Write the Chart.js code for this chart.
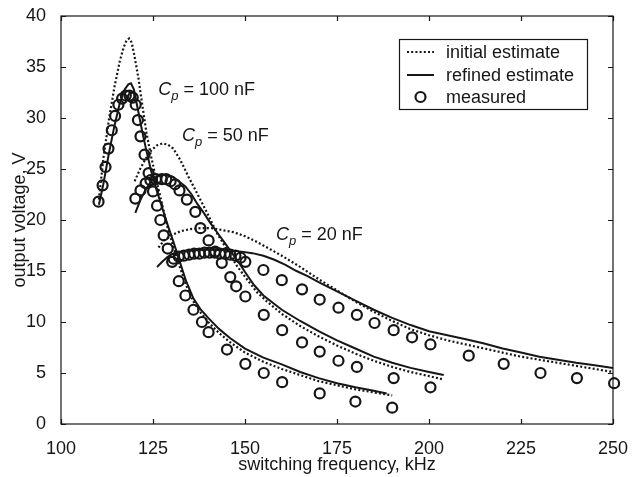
<!DOCTYPE html>
<html><head><meta charset="utf-8">
<script src="https://cdn.jsdelivr.net/npm/chart.js@4.4.0/dist/chart.umd.min.js"></script>
<style>html,body{margin:0;padding:0;background:#fff}#wrap{width:632px;height:477px}</style>
</head><body><div id="wrap"><canvas id="c" width="632" height="477"></canvas></div>
<script>
// ---- tick labels ----
const xTickValues = [100, 125, 150, 175, 200, 225, 250];
const yTickValues = [0, 5, 10, 15, 20, 25, 30, 35, 40];

// ---- Cp = 100 nF ----
const f100Initial = [110.3, 111.5, 113, 114.5, 116, 117, 117.8, 118.5, 119.2, 120, 121, 122, 123.2, 124.5, 126, 127.5, 129, 130.6, 132.2, 134, 136, 138, 140, 143, 146, 150, 155, 160, 165, 170, 175, 180, 185, 190];
const v100Initial = [22.0, 26.0, 29.8, 33.0, 35.6, 36.9, 37.6, 37.8, 37.4, 36.0, 34.0, 31.5, 28.6, 26.2, 23.8, 21.5, 19.2, 17.3, 15.5, 13.6, 12.0, 10.9, 10.0, 8.9, 8.0, 7.0, 6.1, 5.4, 4.8, 4.2, 3.8, 3.4, 3.1, 2.8];
const f100Refined = [110.3, 111.5, 113, 114.5, 116, 117.3, 118.3, 119.0, 119.8, 120.8, 122, 123.2, 124.5, 126, 127.5, 129, 130.6, 132.2, 134, 136, 138, 140, 143, 146, 150, 155, 160, 165, 170, 175, 180, 185, 188.5];
const v100Refined = [21.5, 23.5, 26.5, 29.2, 31.5, 32.8, 33.3, 33.4, 32.8, 31.0, 28.8, 26.8, 24.8, 22.9, 21.2, 19.5, 17.8, 16.0, 14.0, 12.3, 11.2, 10.4, 9.3, 8.4, 7.4, 6.5, 5.85, 5.1, 4.5, 4.0, 3.6, 3.25, 3.0];
const f100Measured = [110.2, 111.3, 112.1, 112.9, 113.8, 114.7, 115.6, 116.6, 117.6, 118.6, 119.5, 120.3, 120.9, 121.6, 122.7, 123.8, 125.0, 126.1, 127.0, 127.9, 129.0, 130.2, 132.0, 133.8, 136.0, 138.3, 140.1, 145.1, 150.1, 155.1, 160.1, 170.3, 180.0, 190.0];
const v100Measured = [21.8, 23.4, 25.2, 27.0, 28.8, 30.2, 31.3, 31.9, 32.2, 32.2, 32.0, 31.3, 29.8, 28.2, 26.4, 24.6, 22.8, 21.4, 20.0, 18.5, 17.2, 15.9, 14.0, 12.6, 11.2, 10.0, 9.0, 7.3, 5.9, 5.0, 4.1, 3.0, 2.2, 1.6];

// ---- Cp = 50 nF ----
const f50Initial = [120, 121.5, 123, 124.5, 126, 127.5, 129, 130.5, 132.4, 134.7, 137, 139.7, 142.4, 145.1, 147.8, 150.5, 153.3, 156, 160, 165, 170, 175, 180, 185, 190, 195, 200, 203.5];
const v50Initial = [23.8, 25.0, 26.0, 26.8, 27.3, 27.5, 27.4, 27.0, 25.9, 24.2, 22.6, 20.7, 18.7, 17.1, 15.5, 14.2, 12.9, 12.0, 10.8, 9.6, 8.6, 7.7, 6.9, 6.2, 5.6, 5.1, 4.7, 4.4];
const f50Refined = [120.2, 121.5, 123, 124.5, 126, 127.5, 129, 130.5, 132, 133.8, 135.5, 137, 138.8, 140.6, 142.4, 144.2, 146, 148, 150, 152.5, 155, 160, 165, 170, 175, 180, 185, 190, 195, 200, 204];
const v50Refined = [20.7, 21.9, 23.0, 23.8, 24.3, 24.4, 24.4, 24.2, 23.8, 23.3, 22.5, 21.6, 20.7, 19.7, 18.8, 17.9, 17.0, 16.0, 14.9, 13.6, 12.6, 11.2, 10.1, 9.1, 8.2, 7.4, 6.6, 6.0, 5.5, 5.1, 4.8];
const f50Measured = [120.2, 121.6, 123.0, 124.3, 125.8, 127.4, 128.6, 129.8, 131.0, 132.2, 134.2, 136.5, 137.9, 140.1, 141.9, 143.7, 146.0, 147.6, 150.1, 155.1, 160.1, 165.5, 170.3, 175.4, 180.4, 190.4, 200.4];
const v50Measured = [22.1, 22.9, 23.6, 23.9, 24.0, 24.0, 24.0, 23.8, 23.5, 22.9, 22.0, 20.8, 19.2, 18.0, 16.9, 15.8, 14.4, 13.5, 12.5, 10.7, 9.2, 8.0, 7.1, 6.2, 5.6, 4.5, 3.6];

// ---- Cp = 20 nF ----
const f20Initial = [126.5, 128, 130, 132.5, 135, 138, 141, 144, 147, 150, 153, 156, 160, 165, 170, 175, 180, 185, 190, 195, 200, 205, 210, 215, 220, 225, 230, 235, 240, 245, 250];
const v20Initial = [17.3, 18.0, 18.5, 18.9, 19.1, 19.2, 19.2, 19.0, 18.8, 18.4, 17.9, 17.3, 16.5, 15.4, 14.2, 13.1, 12.0, 11.0, 10.1, 9.3, 8.7, 8.2, 7.8, 7.4, 7.0, 6.6, 6.3, 6.0, 5.7, 5.4, 5.1];
const f20Refined = [126.1, 127.5, 129, 131, 134, 137, 140, 143, 146, 149, 152, 155, 158, 161, 164, 167, 170, 175, 180, 185, 190, 195, 200, 205, 210, 215, 220, 225, 230, 235, 240, 245, 250];
const v20Refined = [15.4, 15.9, 16.4, 16.8, 16.95, 17.05, 17.1, 17.05, 17.0, 16.9, 16.75, 16.5, 16.1, 15.6, 15.0, 14.5, 13.9, 13.0, 12.1, 11.2, 10.4, 9.7, 9.1, 8.7, 8.3, 7.9, 7.4, 7.0, 6.6, 6.3, 6.0, 5.75, 5.5];
const f20Measured = [130.6, 132.0, 133.4, 134.8, 136.2, 137.6, 139.0, 140.4, 141.8, 143.2, 144.6, 146.0, 147.4, 148.8, 150.1, 155.0, 160.0, 165.5, 170.3, 175.4, 180.4, 185.2, 190.4, 195.4, 200.4, 210.8, 220.3, 230.3, 240.2, 250.3];
const v20Measured = [16.2, 16.4, 16.5, 16.6, 16.7, 16.7, 16.8, 16.8, 16.8, 16.7, 16.7, 16.6, 16.5, 16.3, 15.9, 15.1, 14.1, 13.2, 12.2, 11.4, 10.7, 9.9, 9.2, 8.5, 7.8, 6.7, 5.9, 5.0, 4.5, 4.0];

const legendLabels = ['initial estimate', 'refined estimate', 'measured'];
const curveLabels = ['100 nF', '50 nF', '20 nF'];

// ---- presentation (not data) ----
const INK = '#161616';
const FONT = '"Liberation Sans", Arial, Helvetica, sans-serif';
const FS = 18;
const labelAnchors = [[126.4, 32.7], [132.9, 28.2], [158.4, 18.5]];

function pairs(xs, ys) { return xs.map((x, i) => ({ x: x, y: ys[i] })); }
function lineDs(xs, ys, dotted) {
  return { data: pairs(xs, ys), showLine: true, borderColor: INK, borderWidth: dotted ? 2.2 : 2,
    borderDash: dotted ? [2, 2.2] : [], borderCapStyle: 'butt', pointRadius: 0, pointHoverRadius: 0, tension: 0, fill: false };
}
function ptsDs(xs, ys) {
  return { data: pairs(xs, ys), showLine: false, pointStyle: 'circle', pointRadius: 5, pointBorderWidth: 2.2,
    borderColor: INK, backgroundColor: 'rgba(0,0,0,0)', clip: false };
}

const frame = {
  id: 'frame',
  afterDatasetsDraw(chart) {
    const ctx = chart.ctx, a = chart.chartArea, xs = chart.scales.x, ys = chart.scales.y;
    ctx.save();
    ctx.strokeStyle = INK; ctx.lineWidth = 1.2;
    ctx.strokeRect(a.left, a.top, a.right - a.left, a.bottom - a.top);
    const L = 5;
    ctx.beginPath();
    xTickValues.forEach(v => { const p = Math.round(xs.getPixelForValue(v)) + 0.5;
      ctx.moveTo(p, a.bottom); ctx.lineTo(p, a.bottom - L); ctx.moveTo(p, a.top); ctx.lineTo(p, a.top + L); });
    yTickValues.forEach(v => { const p = Math.round(ys.getPixelForValue(v)) + 0.5;
      ctx.moveTo(a.left, p); ctx.lineTo(a.left + L, p); ctx.moveTo(a.right, p); ctx.lineTo(a.right - L, p); });
    ctx.stroke();

    // curve annotations
    ctx.fillStyle = INK; ctx.textBaseline = 'middle'; ctx.textAlign = 'left';
    labelAnchors.forEach((an, i) => {
      let x = xs.getPixelForValue(an[0]); const y = ys.getPixelForValue(an[1]);
      ctx.font = 'italic ' + FS + 'px ' + FONT; ctx.fillText('C', x, y); x += ctx.measureText('C').width;
      ctx.font = 'italic 13px ' + FONT; ctx.fillText('p', x, y + 6); x += ctx.measureText('p').width;
      ctx.font = FS + 'px ' + FONT; ctx.fillText(' = ' + curveLabels[i], x, y);
    });

    // legend box
    const bx = 399, by = 39, bw = 188, bh = 70;
    ctx.fillStyle = '#fff'; ctx.fillRect(bx, by, bw, bh);
    ctx.lineWidth = 1.2; ctx.strokeRect(bx + 0.5, by + 0.5, bw, bh);
    const rows = [52, 75, 97];
    ctx.lineWidth = 2.2;
    ctx.setLineDash([2, 2.2]); ctx.beginPath(); ctx.moveTo(407, rows[0]); ctx.lineTo(434, rows[0]); ctx.stroke();
    ctx.setLineDash([]); ctx.lineWidth = 2; ctx.beginPath(); ctx.moveTo(407, rows[1]); ctx.lineTo(434, rows[1]); ctx.stroke();
    ctx.lineWidth = 2.2; ctx.beginPath(); ctx.arc(420.5, rows[2], 5, 0, Math.PI * 2); ctx.stroke();
    ctx.fillStyle = INK; ctx.font = FS + 'px ' + FONT;
    legendLabels.forEach((t, i) => ctx.fillText(t, 446, rows[i] + 1));
    ctx.restore();
  }
};

new Chart(document.getElementById('c'), {
  type: 'scatter',
  data: { datasets: [
    lineDs(f100Initial, v100Initial, true), lineDs(f100Refined, v100Refined, false), ptsDs(f100Measured, v100Measured),
    lineDs(f50Initial, v50Initial, true), lineDs(f50Refined, v50Refined, false), ptsDs(f50Measured, v50Measured),
    lineDs(f20Initial, v20Initial, true), lineDs(f20Refined, v20Refined, false), ptsDs(f20Measured, v20Measured)
  ] },
  options: {
    responsive: false, animation: false, devicePixelRatio: 1,
    layout: { padding: { left: 0, right: 19, top: 16, bottom: 0 } },
    plugins: { legend: { display: false }, tooltip: { enabled: false } },
    scales: {
      x: { type: 'linear', min: 100, max: 250,
        afterBuildTicks: s => { s.ticks = xTickValues.map(v => ({ value: v })); },
        afterFit: s => { s.height = 53; s.paddingLeft = 0; s.paddingRight = 0; },
        grid: { display: false }, border: { display: false },
        ticks: { color: INK, font: { family: FONT, size: FS }, padding: 6, maxRotation: 0, autoSkip: false },
        title: { display: true, text: 'switching frequency, kHz', color: INK, font: { family: FONT, size: FS }, padding: { top: 0, bottom: 1 } } },
      y: { type: 'linear', min: 0, max: 40,
        afterBuildTicks: s => { s.ticks = yTickValues.map(v => ({ value: v })); },
        afterFit: s => { s.width = 61; s.paddingTop = 0; s.paddingBottom = 0; },
        grid: { display: false }, border: { display: false },
        ticks: { color: INK, font: { family: FONT, size: FS }, padding: 7, autoSkip: false },
        title: { display: true, text: 'output voltage, V', color: INK, font: { family: FONT, size: FS }, padding: { top: 9, bottom: 0 } } }
    }
  },
  plugins: [frame]
});
</script>
</body></html>
